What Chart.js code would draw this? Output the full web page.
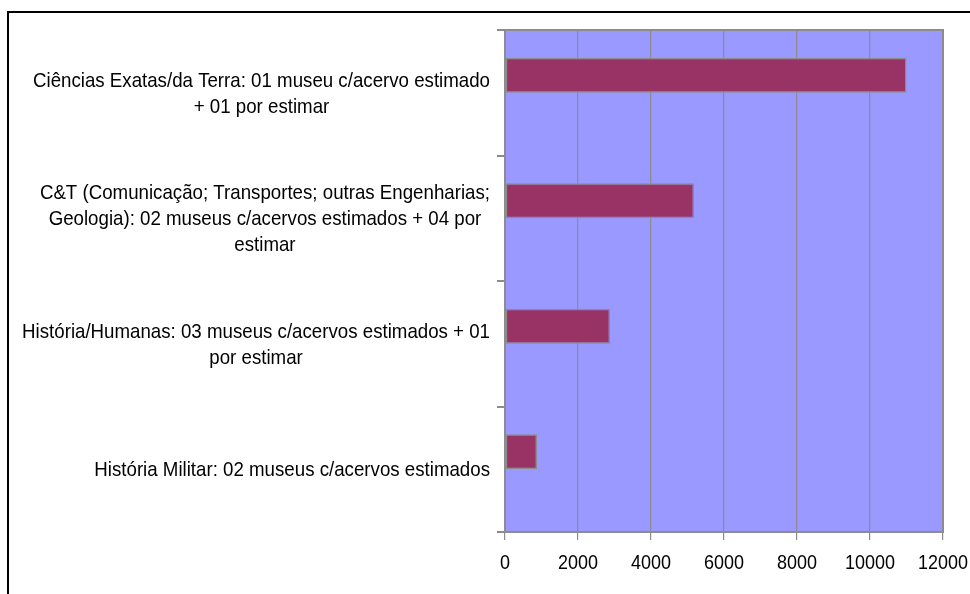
<!DOCTYPE html>
<html>
<head>
<meta charset="utf-8">
<script src="https://cdn.jsdelivr.net/npm/chart.js@4.4.1/dist/chart.umd.min.js"></script>
<style>
  html, body { margin: 0; padding: 0; background: #fff; overflow: hidden; }
  #frame { position: absolute; left: 7px; top: 11px; width: 1100px; height: 800px; border: 2px solid #000; }
  #wrap  { position: absolute; left: 0; top: 0; width: 970px; height: 594px; }
</style>
</head>
<body>
<div id="frame"></div>
<div id="wrap"><canvas id="chart" width="970" height="594"></canvas></div>
<script>
// ── Data ──────────────────────────────────────────────────────────────────────
const categories = [
  ['Ciências Exatas/da Terra: 01 museu c/acervo estimado', '+ 01 por estimar'],
  ['C&T (Comunicação; Transportes; outras Engenharias;', 'Geologia): 02 museus c/acervos estimados + 04 por', 'estimar'],
  ['História/Humanas: 03 museus c/acervos estimados + 01', 'por estimar'],
  ['História Militar: 02 museus c/acervos estimados'],
];
const acervo  = [11000, 5180, 2880, 880];
const serie2  = [null, null, null, null];   // empty second series (keeps Excel's bar offset)
const xTicks  = [0, 2000, 4000, 6000, 8000, 10000, 12000];

// ── Styles ────────────────────────────────────────────────────────────────────
const FONT   = "'Liberation Sans', Arial, sans-serif";
const GRID   = '#8c8c8c';
const PLOTBG = '#9999FF';
const TALL   = 1.13;   // source text is drawn a bit stretched vertically

function tallText(ctx, text, x, y) {
  ctx.save();
  ctx.translate(x, y);
  ctx.scale(1, TALL);
  ctx.fillText(text, 0, 0);
  ctx.restore();
}

// plot area fill + grey frame
const plotArea = {
  id: 'plotArea',
  beforeDraw(chart) {
    const { ctx, chartArea: a } = chart;
    ctx.save();
    ctx.fillStyle = PLOTBG;
    ctx.fillRect(a.left, a.top, a.right - a.left, a.bottom - a.top);
    ctx.restore();
  },
  afterDatasetsDraw(chart) {
    const { ctx, chartArea: a } = chart;
    ctx.save();
    ctx.strokeStyle = GRID;
    ctx.lineWidth = 2;
    ctx.strokeRect(a.left, a.top, a.right - a.left, a.bottom - a.top);
    ctx.restore();
  }
};

// axis texts: category blocks right-aligned with centred lines, x tick numbers
const axisText = {
  id: 'axisText',
  afterDraw(chart) {
    const { ctx, chartArea: a } = chart;
    const y = chart.scales.y, x = chart.scales.x;
    const lh = 26;
    ctx.save();
    ctx.fillStyle = '#000';
    ctx.textAlign = 'center';
    ctx.textBaseline = 'middle';
    ctx.font = `18.7px ${FONT}`;
    categories.forEach((lines, i) => {
      const cy = y.getPixelForValue(i) + 1;
      const w  = Math.max(...lines.map(l => ctx.measureText(l).width));
      const cx = a.left - 15 - w / 2;
      const top = cy - (lines.length - 1) * lh / 2;
      lines.forEach((l, k) => tallText(ctx, l, cx, top + k * lh));
    });
    ctx.font = `18px ${FONT}`;
    xTicks.forEach(v => tallText(ctx, String(v), x.getPixelForValue(v), a.bottom + 31));
    ctx.restore();
  }
};

new Chart(document.getElementById('chart'), {
  type: 'bar',
  data: {
    labels: categories,
    datasets: [
      { label: 'Acervo', data: acervo, backgroundColor: '#993366', borderColor: GRID, borderWidth: 1.5, borderSkipped: false },
      { label: 'Série 2', data: serie2, backgroundColor: '#993366', borderWidth: 0 },
    ]
  },
  options: {
    indexAxis: 'y',
    responsive: false,
    animation: false,
    devicePixelRatio: 1,
    categoryPercentage: 70 / 125.5,
    barPercentage: 1,
    layout: { padding: { top: 30, right: 27, left: 0, bottom: 0 } },
    plugins: { legend: { display: false }, tooltip: { enabled: false } },
    scales: {
      x: {
        min: xTicks[0], max: xTicks[xTicks.length - 1],
        afterBuildTicks: s => { s.ticks = xTicks.map(v => ({ value: v })); },
        afterFit: s => { s.height = 62; },
        ticks: { display: false },
        grid: { color: GRID, lineWidth: 1.2, tickLength: 8 },
        border: { color: GRID, width: 2 },
      },
      y: {
        afterFit: s => { s.width = 505; },
        ticks: { display: false },
        grid: { offset: true, drawOnChartArea: false, color: GRID, lineWidth: 2, tickLength: 8 },
        border: { color: GRID, width: 2 },
      }
    }
  },
  plugins: [plotArea, axisText]
});
</script>
</body>
</html>
